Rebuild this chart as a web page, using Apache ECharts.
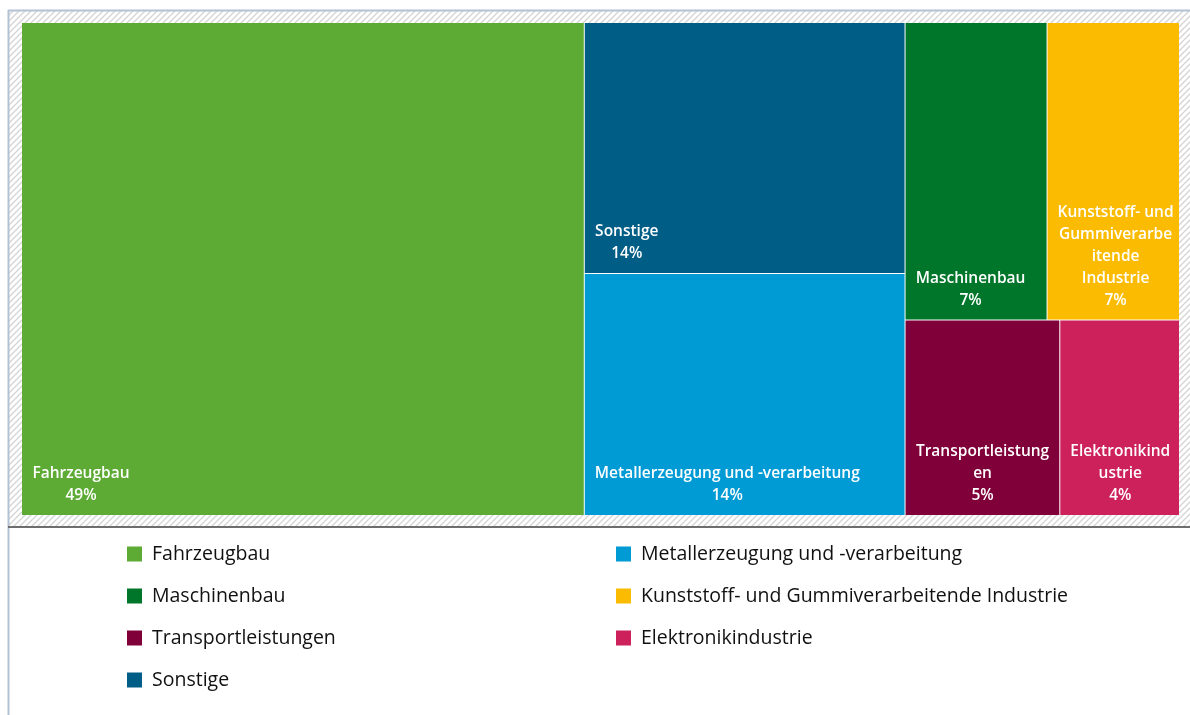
<!DOCTYPE html>
<html>
<head>
<meta charset="utf-8">
<script src="https://cdn.jsdelivr.net/npm/echarts@6/dist/echarts.min.js"></script>
<style>
  html, body { margin: 0; padding: 0; background: #fff; }
  #chart { width: 1190px; height: 715px; }
</style>
</head>
<body>
<div id="chart"></div>
<script>
// Anteile nach Branche (%), aus den Kachelflächen geschätzt; beschriftet wird gerundet
const branchen = [
  'Fahrzeugbau',
  'Sonstige',
  'Metallerzeugung und -verarbeitung',
  'Maschinenbau',
  'Kunststoff- und Gummiverarbeitende Industrie',
  'Transportleistungen',
  'Elektronikindustrie'
]
const anteile = [48.6, 14.1, 13.6, 7.4, 6.9, 5.3, 4.1]
// Beschriftung in den Kacheln, so umbrochen wie im Original
const kachelTexte = [
  'Fahrzeugbau',
  'Sonstige',
  'Metallerzeugung und -verarbeitung',
  'Maschinenbau',
  'Kunststoff- und\nGummiverarbe\nitende\nIndustrie',
  'Transportleistung\nen',
  'Elektronikind\nustrie'
]
const farben = ['#5dab35', '#005d86', '#009bd5', '#00762b', '#fbbb00', '#80003a', '#cd215b']
const legendeLinks = ['Fahrzeugbau', 'Maschinenbau', 'Transportleistungen', 'Sonstige']
const legendeRechts = ['Metallerzeugung und -verarbeitung', 'Kunststoff- und Gummiverarbeitende Industrie', 'Elektronikindustrie']

const chart = echarts.init(document.getElementById('chart'))

// schraffierter Hintergrund wie im Excel-Plotbereich
const hatch = document.createElement('canvas')
hatch.width = 6
hatch.height = 6
const hctx = hatch.getContext('2d')
hctx.fillStyle = '#ffffff'
hctx.fillRect(0, 0, 6, 6)
hctx.strokeStyle = '#d4d4d4'
hctx.lineWidth = 1.3
hctx.beginPath()
hctx.moveTo(-1, 7); hctx.lineTo(7, -1)
hctx.moveTo(-1, 1); hctx.lineTo(1, -1)
hctx.moveTo(5, 7); hctx.lineTo(7, 5)
hctx.stroke()

const LABEL_SIZE = 15.5
const LINE_H = 22
const labelFont = { fontFamily: 'Open Sans', fontSize: LABEL_SIZE, fontWeight: 600, color: '#fff', lineHeight: LINE_H, align: 'center' }

const measure = document.createElement('canvas').getContext('2d')
measure.font = '600 ' + LABEL_SIZE + 'px "Open Sans"'

const pct = v => Math.round(v) + '%'

const legendBase = {
  orient: 'vertical',
  top: 542,
  padding: 0,
  icon: 'rect',
  itemWidth: 15,
  itemHeight: 15,
  itemGap: 18,
  selectedMode: false,
  textStyle: { fontFamily: 'Open Sans', fontSize: 19.5, color: '#111', lineHeight: 24, padding: [0, 0, 0, 5] }
}

// Label unten links, Zeilen untereinander zentriert (wie Excel)
function buildData (layouts) {
  return branchen.map((name, i) => {
    const item = { name, value: anteile[i], itemStyle: { color: farben[i] } }
    const lay = layouts && layouts[i]
    if (lay) {
      const lines = (kachelTexte[i] + '\n' + pct(anteile[i])).split('\n')
      const blockW = Math.ceil(Math.max(...lines.map(l => measure.measureText(l).width))) + 2
      const contentH = lines.length * LINE_H
      const pad = 9
      item.label = {
        padding: [
          Math.max(lay.height - contentH - pad + 1, 0),
          Math.max(lay.width - pad - blockW, 0),
          pad - 1,
          pad
        ]
      }
    }
    return item
  })
}

const option = {
  backgroundColor: '#fff',
  animation: false,
  graphic: [
    { type: 'rect', z: -10, shape: { x: 8, y: 10, width: 1182, height: 516 }, style: { fill: { image: hatch, repeat: 'repeat' } } },
    { type: 'line', z: -9, shape: { x1: 8, y1: 10.5, x2: 1190, y2: 10.5 }, style: { stroke: '#b3c1d4', lineWidth: 2 } },
    { type: 'line', z: -9, shape: { x1: 8.5, y1: 10, x2: 8.5, y2: 715 }, style: { stroke: '#b3c1d4', lineWidth: 2 } },
    { type: 'line', z: -9, shape: { x1: 8, y1: 527, x2: 1190, y2: 527 }, style: { stroke: '#6e6e6e', lineWidth: 2 } }
  ],
  legend: [
    Object.assign({}, legendBase, { left: 127, data: legendeLinks }),
    Object.assign({}, legendBase, { left: 616, data: legendeRechts })
  ],
  series: [
    {
      type: 'treemap',
      left: 22,
      top: 23,
      right: 11,
      bottom: 200,
      roam: false,
      nodeClick: false,
      breadcrumb: { show: false },
      squareRatio: 1.3,
      levels: [
        { itemStyle: { borderWidth: 0, gapWidth: 1, borderColor: '#fff' } }
      ],
      label: {
        show: true,
        position: 'insideTopLeft',
        distance: 0,
        overflow: 'none',
        formatter: p => '{t|' + kachelTexte[p.dataIndex - 1] + '\n' + pct(p.value) + '}',
        rich: { t: labelFont }
      },
      data: buildData(null)
    },
    {
      // nur für die Legende
      type: 'pie',
      radius: [0, 0],
      center: [-50, -50],
      silent: true,
      label: { show: false },
      labelLine: { show: false },
      data: branchen.map((name, i) => ({ name, value: anteile[i], itemStyle: { color: farben[i] } }))
    }
  ]
}

chart.setOption(option)

// Kachelgrößen aus dem Treemap-Layout lesen und die Labels danach ausrichten
const tmData = chart.getModel().getSeriesByIndex(0).getData()
const layouts = branchen.map((_, i) => tmData.getItemLayout(i + 1))
chart.setOption({ series: [{ data: buildData(layouts) }, {}] })

window.addEventListener('resize', () => chart.resize())
</script>
</body>
</html>
